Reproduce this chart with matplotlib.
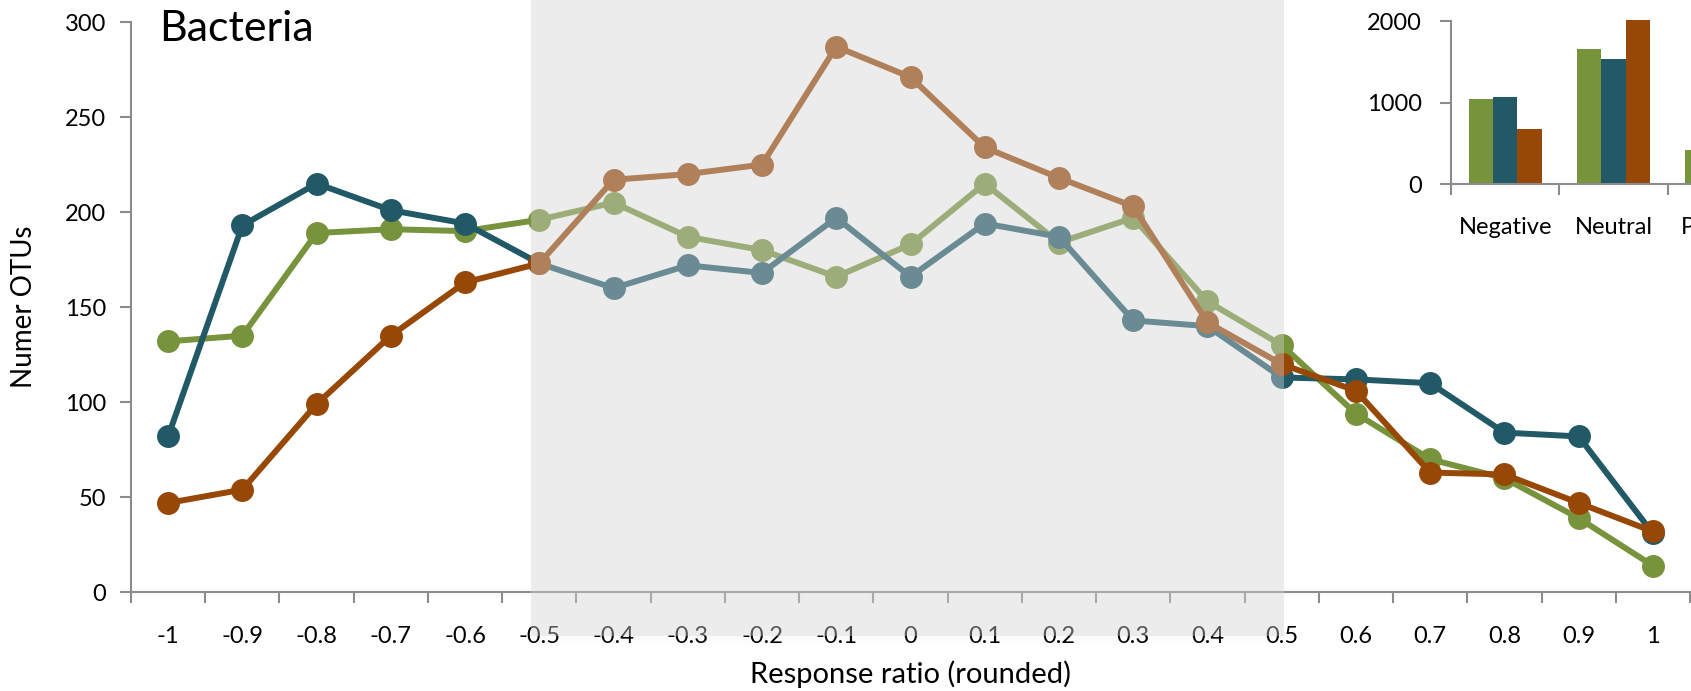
# OTU counts per response-ratio bin, bacteria

import numpy as np
import matplotlib
matplotlib.use('Agg')
import matplotlib.pyplot as plt
from matplotlib.patches import Rectangle

plt.rcParams['font.family'] = ['Lato', 'DejaVu Sans']

ratio_labels = ['-1', '-0.9', '-0.8', '-0.7', '-0.6', '-0.5', '-0.4', '-0.3', '-0.2', '-0.1', '0',
                '0.1', '0.2', '0.3', '0.4', '0.5', '0.6', '0.7', '0.8', '0.9', '1']
green_counts = [132, 135, 189, 191, 190, 196, 205, 187, 180, 166, 183,
                215, 184, 197, 153, 130, 94, 70, 60, 39, 14]
teal_counts = [82, 193, 215, 201, 194, 173, 160, 172, 168, 197, 166,
               194, 187, 143, 140, 113, 112, 110, 84, 82, 31]
rust_counts = [47, 54, 99, 135, 163, 173, 217, 220, 225, 287, 271,
               234, 218, 203, 142, 120, 106, 63, 62, 47, 32]

response_groups = ['Negative', 'Neutral', 'Positive']
green_totals = [1040, 1656, 413]
teal_totals = [1067, 1530, 530]
rust_totals = [678, 2010, 430]

GREEN = '#77933C'
TEAL = '#215967'
RUST = '#974706'
SPINE = '#8C8C8C'

W, H = 1691, 691
fig = plt.figure(figsize=(W / 100, H / 100), dpi=100)

# main line chart
ax = fig.add_axes([131 / W, 98.7 / H, 1559 / W, 570.3 / H])
x = np.arange(len(ratio_labels))
for vals, col in [(green_counts, GREEN), (teal_counts, TEAL), (rust_counts, RUST)]:
    ax.plot(x, vals, color=col, lw=4.3, marker='o', ms=15.5, mec=col, mfc=col,
            solid_joinstyle='round', clip_on=False)

ax.set_xlim(-0.5, len(ratio_labels) - 0.5)
ax.set_ylim(0, 300)
ax.set_yticks([0, 50, 100, 150, 200, 250, 300])
ax.set_xticks(x)
ax.set_xticklabels(ratio_labels)
ax.set_xticks(np.arange(-0.5, len(ratio_labels)), minor=True)
ax.tick_params(axis='x', which='major', length=0, pad=24, labelsize=17)
ax.tick_params(axis='x', which='minor', length=8, width=1.5, color=SPINE, direction='out')
ax.tick_params(axis='y', length=8, width=1.5, color=SPINE, pad=10, labelsize=17)
for side in ['top', 'right']:
    ax.spines[side].set_visible(False)
for side in ['left', 'bottom']:
    ax.spines[side].set_color(SPINE)
    ax.spines[side].set_linewidth(1.5)
ax.set_xlabel('Response ratio (rounded)', fontsize=21, labelpad=10)
ax.set_ylabel('Numer OTUs', fontsize=20, labelpad=20)
ax.patch.set_alpha(0)

fig.text(159 / W, (H - 41) / H, 'Bacteria', fontsize=31, va='baseline', ha='left')

# inset: totals per response group
axi = fig.add_axes([1451 / W, 507 / H, 325 / W, 163 / H])
gx = np.arange(len(response_groups))
bw = 0.225
axi.bar(gx - bw, green_totals, bw, color=GREEN, clip_on=False)
axi.bar(gx, teal_totals, bw, color=TEAL, clip_on=False)
axi.bar(gx + bw, rust_totals, bw, color=RUST, clip_on=False)
axi.set_xlim(-0.5, 2.5)
axi.set_ylim(0, 2000)
axi.set_yticks([0, 1000, 2000])
axi.set_xticks(gx)
axi.set_xticklabels(response_groups)
axi.set_xticks([-0.5, 0.5, 1.5, 2.5], minor=True)
axi.tick_params(axis='x', which='major', length=0, pad=24, labelsize=17)
axi.tick_params(axis='x', which='minor', length=8, width=1.5, color=SPINE)
axi.tick_params(axis='y', length=8, width=1.5, color=SPINE, pad=13, labelsize=17)
for side in ['top', 'right']:
    axi.spines[side].set_visible(False)
for side in ['left', 'bottom']:
    axi.spines[side].set_color(SPINE)
    axi.spines[side].set_linewidth(1.5)
axi.patch.set_alpha(0)

# translucent band over the neutral range, with a faint soft edge below it
band_l, band_r, band_b = 531, 1284, H - 636
for k, a in [(8, 0.015), (4, 0.02)]:
    fig.add_artist(Rectangle((band_l / W, (band_b - k) / H), (band_r - band_l) / W, k / H,
                             transform=fig.transFigure, facecolor='#A0A0A0',
                             edgecolor='none', alpha=a, zorder=9))
fig.add_artist(Rectangle((band_l / W, band_b / H), (band_r - band_l) / W, (H - band_b) / H,
                         transform=fig.transFigure, facecolor='#D3D3D3', edgecolor='none',
                         alpha=0.41, zorder=10))

fig.savefig('out.png', dpi=100)
